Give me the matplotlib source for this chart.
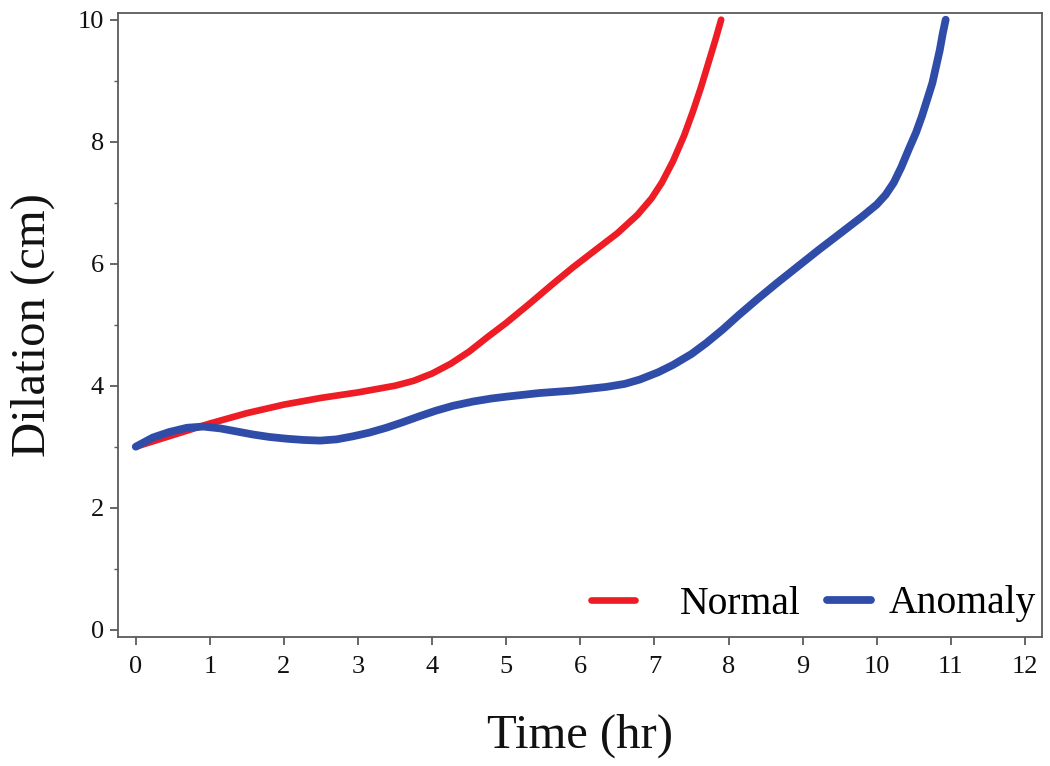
import matplotlib
matplotlib.use('Agg')
import matplotlib.pyplot as plt
from matplotlib.ticker import MultipleLocator, FixedLocator
from matplotlib.lines import Line2D

# ---- data ----
time_normal = [0.0, 0.5, 1.0, 1.5, 2.0, 2.5, 3.0, 3.5, 3.75, 4.0, 4.25, 4.5, 4.75,
               5.0, 5.3, 5.63, 5.9, 6.21, 6.5, 6.77, 6.96, 7.1, 7.25, 7.4, 7.52,
               7.63, 7.73, 7.82, 7.9]
dil_normal = [3.0, 3.19, 3.38, 3.55, 3.69, 3.8, 3.89, 4.0, 4.08, 4.2, 4.36, 4.56, 4.8,
              5.03, 5.33, 5.67, 5.94, 6.23, 6.5, 6.8, 7.07, 7.33, 7.68, 8.1, 8.5,
              8.9, 9.3, 9.66, 10.0]

time_anomaly = [0.0, 0.23, 0.45, 0.69, 0.91, 1.14, 1.36, 1.58, 1.8, 2.04, 2.27, 2.49,
                2.71, 2.93, 3.15, 3.38, 3.6, 3.83, 4.05, 4.28, 4.55, 4.8, 5.0, 5.45,
                5.9, 6.35, 6.6, 6.8, 7.05, 7.25, 7.5, 7.7, 7.92, 8.14, 8.4, 8.66,
                8.94, 9.22, 9.5, 9.8, 10.0, 10.12, 10.23, 10.33, 10.43, 10.53, 10.61,
                10.68, 10.75, 10.8, 10.85, 10.89, 10.93]
dil_anomaly = [3.0, 3.15, 3.24, 3.31, 3.33, 3.3, 3.25, 3.2, 3.16, 3.13, 3.11, 3.1,
               3.12, 3.17, 3.23, 3.31, 3.4, 3.5, 3.59, 3.67, 3.74, 3.79, 3.82, 3.88,
               3.92, 3.98, 4.03, 4.1, 4.22, 4.34, 4.52, 4.7, 4.92, 5.16, 5.43, 5.69,
               5.96, 6.23, 6.49, 6.77, 6.97, 7.13, 7.33, 7.58, 7.87, 8.15, 8.42,
               8.69, 8.96, 9.23, 9.5, 9.77, 10.0]

series_labels = ['Normal', 'Anomaly']
series_colors = ['#EE1C25', '#2F4DA8']
x_ticks = list(range(0, 13))
y_ticks = [0, 2, 4, 6, 8, 10]
x_label = 'Time (hr)'
y_label = 'Dilation (cm)'

plt.rcParams['font.family'] = ['Liberation Serif', 'DejaVu Serif']

W, H = 1050, 766
fig = plt.figure(figsize=(W / 100, H / 100), dpi=100)
ax = fig.add_axes([118 / W, 1 - 637 / H, (1042 - 118) / W, (637 - 13) / H])

line_n, = ax.plot(time_normal, dil_normal, color=series_colors[0], lw=4.8,
                  solid_capstyle='round', solid_joinstyle='round',
                  label=series_labels[0], zorder=3)
line_a, = ax.plot(time_anomaly, dil_anomaly, color=series_colors[1], lw=5.6,
                  solid_capstyle='round', solid_joinstyle='round',
                  label=series_labels[1], zorder=4)

ax.set_xlim(-0.24, 12.23)
ax.set_ylim(-0.12, 10.11)
ax.xaxis.set_major_locator(FixedLocator(x_ticks))
ax.yaxis.set_major_locator(FixedLocator(y_ticks))
ax.yaxis.set_minor_locator(MultipleLocator(1))

spine_color = '#5a5a5a'
for s in ax.spines.values():
    s.set_color(spine_color)
    s.set_linewidth(1.3)

ax.tick_params(axis='both', which='major', direction='out', length=6, width=1.3,
               color=spine_color, labelsize=19, labelcolor='#111111')
ax.tick_params(axis='x', which='major', pad=8)
ax.tick_params(axis='y', which='major', pad=4)
ax.tick_params(axis='y', which='minor', direction='out', length=3, width=1.0,
               color=spine_color)

ax.set_xlabel(x_label, fontsize=35, color='#111111')
ax.set_ylabel(y_label, fontsize=35, color='#111111')
ax.xaxis.set_label_coords(0.5, -0.122)
ax.yaxis.set_label_coords(-0.068, 0.5)

# two legend entries, placed like the reference
leg_kw = dict(loc='center right', bbox_transform=fig.transFigure, frameon=False,
              fontsize=28.5, handlelength=1.1, borderpad=0, borderaxespad=0)
leg1 = ax.legend([line_n], [series_labels[0]], bbox_to_anchor=(801 / W, 1 - 604 / H),
                 handletextpad=1.15, **leg_kw)
ax.add_artist(leg1)
ax.legend([line_a], [series_labels[1]], bbox_to_anchor=(1036 / W, 1 - 604 / H),
          handletextpad=0.45, **leg_kw)

fig.savefig('out.png', dpi=100, facecolor='white')
